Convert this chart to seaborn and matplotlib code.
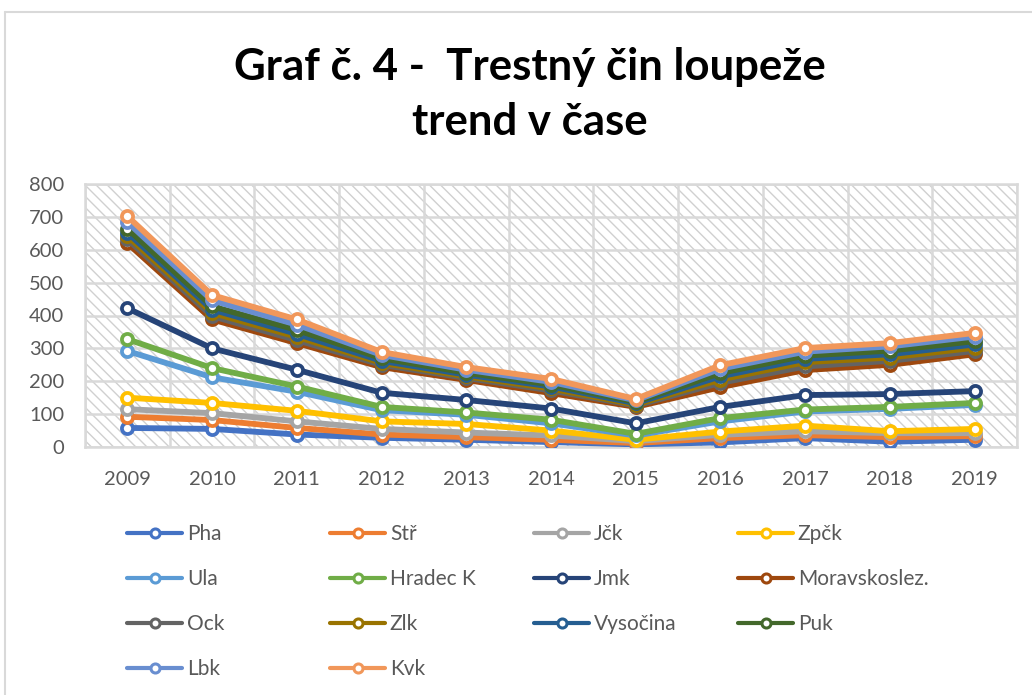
import pandas as pd
import numpy as np
import matplotlib
matplotlib.use('Agg')
import matplotlib.pyplot as plt
from matplotlib.lines import Line2D
import seaborn as sns

# ---------------------------------------------------------
# Data (values as plotted)
# ---------------------------------------------------------
years = ['2009', '2010', '2011', '2012', '2013', '2014', '2015', '2016', '2017', '2018', '2019']

pha = [58, 55, 38, 28, 22, 15, 8, 14, 27, 16, 22]
str_ = [92, 82, 58, 38, 30, 22, 12, 27, 36, 30, 33]
jck = [115, 103, 78, 55, 44, 35, 18, 37, 48, 42, 42]
zpck = [150, 134, 110, 78, 70, 50, 22, 47, 65, 48, 55]
ula = [292, 212, 168, 112, 98, 72, 35, 78, 108, 116, 128]
hradec = [328, 240, 184, 122, 105, 83, 40, 88, 114, 122, 134]
jmk = [422, 300, 235, 165, 143, 117, 72, 122, 158, 161, 170]
moravskoslez = [620, 388, 316, 243, 204, 164, 122, 182, 234, 250, 282]
ock = [632, 398, 325, 250, 210, 172, 126, 195, 245, 262, 292]
zlk = [642, 408, 335, 256, 215, 178, 129, 205, 258, 272, 302]
vysocina = [652, 418, 344, 262, 220, 184, 133, 215, 268, 282, 312]
puk = [664, 428, 356, 270, 226, 190, 137, 225, 278, 293, 322]
lbk = [684, 446, 372, 280, 235, 198, 142, 238, 290, 306, 336]
kvk = [702, 462, 388, 289, 243, 207, 146, 249, 301, 316, 347]

names = ['Pha', 'Stř', 'Jčk', 'Zpčk', 'Ula', 'Hradec K', 'Jmk', 'Moravskoslez.',
         'Ock', 'Zlk', 'Vysočina', 'Puk', 'Lbk', 'Kvk']
series = [pha, str_, jck, zpck, ula, hradec, jmk, moravskoslez,
          ock, zlk, vysocina, puk, lbk, kvk]
colors = ['#4472C4', '#ED7D31', '#A5A5A5', '#FFC000', '#5B9BD5', '#70AD47', '#264478',
          '#9E480E', '#636363', '#997300', '#255E91', '#43682B', '#698ED0', '#F1975A']

rows = []
for name, vals in zip(names, series):
    for i, v in enumerate(vals):
        rows.append({'idx': i, 'year': years[i], 'kraj': name, 'value': v})
df = pd.DataFrame(rows)

# ---------------------------------------------------------
# Plot
# ---------------------------------------------------------
sns.set_theme(style='white')
plt.rcParams['font.family'] = ['Lato', 'DejaVu Sans']
plt.rcParams['hatch.color'] = '#d0d0d0'
plt.rcParams['hatch.linewidth'] = 1.0

text_grey = '#595959'
grid_grey = '#d9d9d9'

fig = plt.figure(figsize=(10.32, 6.95), dpi=100)
ax = fig.add_axes([85 / 1032, 1 - 447 / 695, (1017 - 85) / 1032, (447 - 184) / 695])

# hatched plot area like the Excel pattern fill
ax.patch.set_facecolor('white')
ax.patch.set_hatch('\\\\\\')
ax.patch.set_edgecolor('#d0d0d0')

pal = dict(zip(names, colors))
sns.lineplot(data=df, x='idx', y='value', hue='kraj', hue_order=names, palette=pal,
             marker='o', markersize=8, linewidth=4.2, markerfacecolor='white',
             markeredgewidth=2.7, legend=False, ax=ax, zorder=3)
for line in ax.lines:
    line.set_markeredgecolor(line.get_color())
    line.set_solid_capstyle('round')

ax.set_xlim(-0.5, len(years) - 0.5)
ax.set_ylim(0, 800)
ax.set_yticks(range(0, 801, 100))
ax.set_xticks(range(len(years)))
ax.set_xticklabels(years)
ax.set_xticks(np.arange(-0.5, len(years), 1), minor=True)
ax.grid(False)
ax.grid(True, axis='y', which='major', color=grid_grey, linewidth=1.8, zorder=1)
ax.grid(True, axis='x', which='minor', color=grid_grey, linewidth=1.8, zorder=1)
ax.set_axisbelow(True)
for s in ax.spines.values():
    s.set_color(grid_grey)
    s.set_linewidth(1.8)
ax.tick_params(axis='both', which='both', length=0, labelsize=14.5, colors=text_grey)
ax.tick_params(axis='y', pad=15)
ax.tick_params(axis='x', pad=17)
ax.set_xlabel('')
ax.set_ylabel('')

# title
fig.text(530 / 1032, 1 - 67 / 695, 'Graf č. 4 -  Trestný čin loupeže', ha='center', va='center',
         fontsize=31.5, fontweight='bold', color='black')
fig.text(530 / 1032, 1 - 122 / 695, 'trend v čase', ha='center', va='center',
         fontsize=31.5, fontweight='bold', color='black')

# legend: 4 columns filled row by row (Excel style)
col_x = [127 / 1032, 330 / 1032, 534 / 1032, 738 / 1032]
for c in range(4):
    handles = []
    labels = []
    for k in range(c, len(names), 4):
        handles.append(Line2D([0], [0], color=colors[k], lw=3.0, marker='o', markersize=6.5,
                              markerfacecolor='white', markeredgecolor=colors[k],
                              markeredgewidth=2.2))
        labels.append(names[k])
    leg = fig.legend(handles, labels, loc='upper left', bbox_to_anchor=(col_x[c], 1 - 524 / 695),
                     frameon=False, fontsize=15, handlelength=2.65, handletextpad=0.22,
                     labelspacing=1.2, borderpad=0, borderaxespad=0)
    for t in leg.get_texts():
        t.set_color(text_grey)

# chart border (top and left edges visible in the crop)
fig.add_artist(Line2D([5 / 1032, 1], [1 - 12 / 695, 1 - 12 / 695], color='#d9d9d9', lw=1.5))
fig.add_artist(Line2D([5 / 1032, 5 / 1032], [0, 1 - 12 / 695], color='#d9d9d9', lw=1.5))

fig.savefig('out.png', dpi=100)
plt.close(fig)
